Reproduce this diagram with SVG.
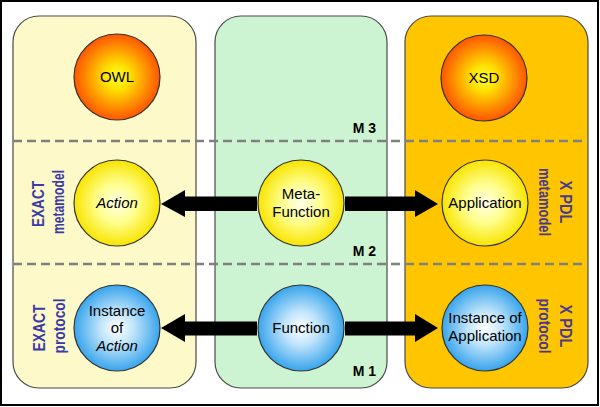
<svg xmlns="http://www.w3.org/2000/svg" width="600" height="407" viewBox="0 0 600 407">
<defs>
<radialGradient id="gOrange" cx="50%" cy="50%" r="50%">
<stop offset="0" stop-color="#ffff30"/>
<stop offset="0.3" stop-color="#ffe000"/>
<stop offset="1" stop-color="#ff5500"/>
</radialGradient>
<radialGradient id="gYellow" cx="50%" cy="50%" r="50%">
<stop offset="0" stop-color="#ffffe8"/>
<stop offset="0.45" stop-color="#ffff90"/>
<stop offset="1" stop-color="#f8e400"/>
</radialGradient>
<radialGradient id="gBlue" cx="50%" cy="50%" r="50%">
<stop offset="0" stop-color="#ffffff"/>
<stop offset="0.4" stop-color="#bfe4fb"/>
<stop offset="1" stop-color="#38a4ec"/>
</radialGradient>
<style>
.panel{stroke:#4a4a4a;stroke-width:1.2}
.node{stroke:#333;stroke-width:1.2}
.lbl{font-family:"Liberation Sans",Arial,sans-serif;font-size:15px;fill:#000;text-anchor:middle}
.it{font-style:italic}
.m{font-family:"Liberation Sans",Arial,sans-serif;font-size:14px;font-weight:bold;fill:#000;text-anchor:end}
.side{font-family:"Liberation Sans",Arial,sans-serif;font-size:16px;font-weight:bold;fill:#3a3aa8;text-anchor:middle}
.sideR{fill:#4a3a90}
.dash{stroke:#808080;stroke-width:2.5;stroke-dasharray:9 5;fill:none}
.arrow{fill:#000}
</style>
</defs>
<rect x="0" y="0" width="600" height="407" fill="#ffffff"/>
<rect x="1" y="1" width="597" height="404" fill="none" stroke="#000" stroke-width="2"/>

<g id="panel-exact">
<rect class="panel" x="13" y="16" width="183" height="372" rx="26" fill="#fdf9c8"/>
<text class="side" transform="translate(44,204) rotate(-90)" textLength="46" lengthAdjust="spacingAndGlyphs">EXACT</text>
<text class="side" transform="translate(64,202) rotate(-90)" textLength="64" lengthAdjust="spacingAndGlyphs">metamodel</text>
<text class="side" transform="translate(45,328) rotate(-90)" textLength="47" lengthAdjust="spacingAndGlyphs">EXACT</text>
<text class="side" transform="translate(65,326) rotate(-90)" textLength="55" lengthAdjust="spacingAndGlyphs">protocol</text>
</g>
<g id="panel-middle">
<rect class="panel" x="215" y="16" width="172" height="372" rx="26" fill="#cdf4d2"/>
<text class="m" x="376" y="133">M 3</text>
<text class="m" x="376" y="256">M 2</text>
<text class="m" x="376" y="376">M 1</text>
</g>
<g id="panel-xpdl">
<rect class="panel" x="405" y="16" width="183" height="372" rx="26" fill="#ffc600"/>
<text class="side sideR" transform="translate(560,202) rotate(90)" textLength="43" lengthAdjust="spacingAndGlyphs">X PDL</text>
<text class="side sideR" transform="translate(539,202) rotate(90)" textLength="68" lengthAdjust="spacingAndGlyphs">metamodel</text>
<text class="side sideR" transform="translate(560,326) rotate(90)" textLength="43" lengthAdjust="spacingAndGlyphs">X PDL</text>
<text class="side sideR" transform="translate(539,326) rotate(90)" textLength="55" lengthAdjust="spacingAndGlyphs">protocol</text>
</g>

<g id="level-separators">
<line class="dash" x1="13" y1="141" x2="588" y2="141"/>
<line class="dash" x1="13" y1="264" x2="588" y2="264"/>
</g>

<g id="connectors">
<polygon class="arrow" points="257,196.5 185,196.5 185,190 161,204 185,217 185,211 257,211"/>
<polygon class="arrow" points="345,196.5 415,196.5 415,190 438,204 415,217 415,211 345,211"/>
<polygon class="arrow" points="257,321.5 185,321.5 185,314 161,328 185,342 185,335.5 257,335.5"/>
<polygon class="arrow" points="345,321.5 415,321.5 415,314 438,328 415,342 415,335.5 345,335.5"/>
</g>

<g id="owl">
<circle class="node" cx="117" cy="77" r="43" fill="url(#gOrange)"/>
<text class="lbl" x="117" y="82" font-size="14">OWL</text>
</g>
<g id="xsd">
<circle class="node" cx="484" cy="78" r="43" fill="url(#gOrange)"/>
<text class="lbl" x="484" y="83" font-size="14">XSD</text>
</g>
<g id="action">
<circle class="node" cx="117" cy="203" r="43" fill="url(#gYellow)"/>
<text class="lbl it" x="117" y="208">Action</text>
</g>
<g id="meta-function">
<circle class="node" cx="301" cy="203" r="43" fill="url(#gYellow)"/>
<text class="lbl" x="301" y="199">Meta-</text>
<text class="lbl" x="301" y="217">Function</text>
</g>
<g id="application">
<circle class="node" cx="485" cy="203" r="43" fill="url(#gYellow)"/>
<text class="lbl" x="485" y="208">Application</text>
</g>
<g id="instance-of-action">
<circle class="node" cx="117" cy="328" r="43" fill="url(#gBlue)"/>
<text class="lbl" x="117" y="316">Instance</text>
<text class="lbl" x="117" y="333">of</text>
<text class="lbl it" x="117" y="351">Action</text>
</g>
<g id="function">
<circle class="node" cx="301" cy="328" r="43" fill="url(#gBlue)"/>
<text class="lbl" x="301" y="333">Function</text>
</g>
<g id="instance-of-application">
<circle class="node" cx="485" cy="328" r="43" fill="url(#gBlue)"/>
<text class="lbl" x="485" y="323">Instance of</text>
<text class="lbl" x="485" y="341">Application</text>
</g>
</svg>
